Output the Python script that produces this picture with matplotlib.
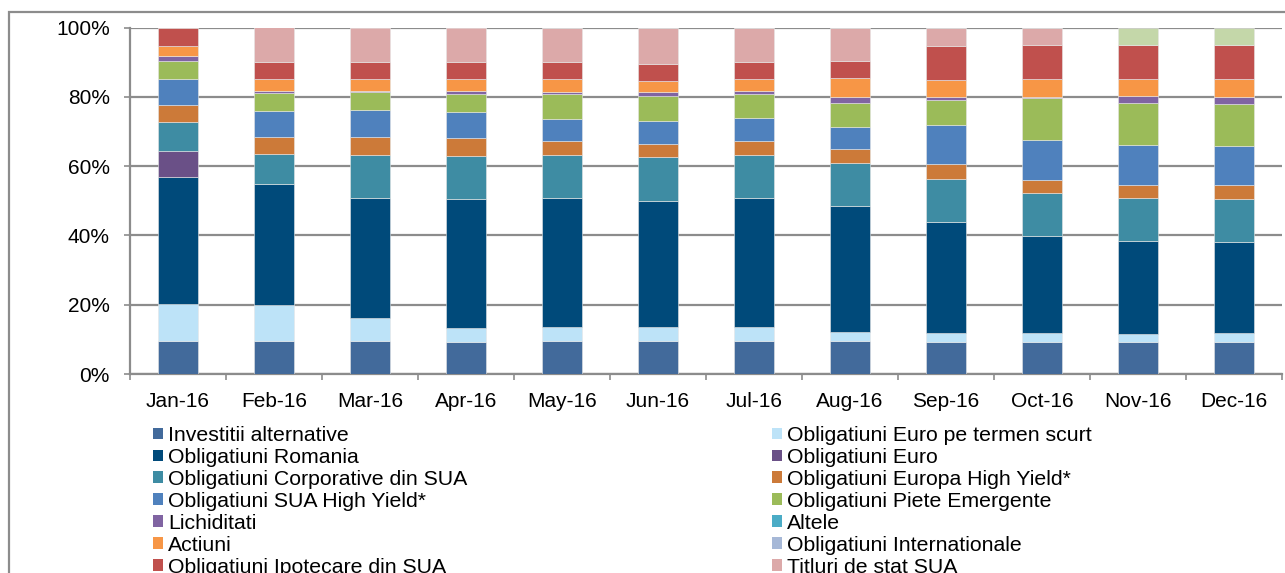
import matplotlib
matplotlib.use("Agg")
import matplotlib.pyplot as plt
from matplotlib.patches import Rectangle, Patch
import numpy as np

plt.rcParams['font.family'] = ['Liberation Sans', 'DejaVu Sans']

months = ["Jan-16", "Feb-16", "Mar-16", "Apr-16", "May-16", "Jun-16",
          "Jul-16", "Aug-16", "Sep-16", "Oct-16", "Nov-16", "Dec-16"]

series_names = [
    "Investitii alternative", "Obligatiuni Euro pe termen scurt",
    "Obligatiuni Romania", "Obligatiuni Euro",
    "Obligatiuni Corporative din SUA", "Obligatiuni Europa High Yield*",
    "Obligatiuni SUA High Yield*", "Obligatiuni Piete Emergente",
    "Lichiditati", "Altele",
    "Actiuni", "Obligatiuni Internationale",
    "Obligatiuni Ipotecare din SUA", "Titluri de stat SUA",
    "Alte active",
]

investitii_alternative = [9.6, 9.5, 9.5, 9.3, 9.5, 9.5, 9.5, 9.5, 9.3, 9.3, 9.3, 9.3]
euro_termen_scurt      = [10.5, 10.5, 6.6, 4.1, 4.0, 4.0, 4.0, 2.5, 2.5, 2.5, 2.3, 2.5]
romania                = [36.7, 34.9, 34.6, 37.1, 37.3, 36.4, 37.2, 36.5, 32.1, 28.0, 26.8, 26.4]
euro                   = [7.5, 0, 0, 0, 0, 0, 0, 0, 0, 0, 0, 0]
corporative_sua        = [8.5, 8.5, 12.6, 12.4, 12.4, 12.6, 12.6, 12.4, 12.5, 12.3, 12.4, 12.3]
europa_hy              = [4.9, 5.1, 5.1, 5.1, 4.1, 3.9, 4.0, 3.9, 4.1, 4.0, 3.8, 4.0]
sua_hy                 = [7.5, 7.5, 7.7, 7.6, 6.4, 6.5, 6.5, 6.4, 11.3, 11.5, 11.4, 11.3]
piete_emergente        = [5.1, 5.1, 5.2, 5.2, 7.2, 7.3, 7.1, 7.1, 7.3, 12.1, 12.1, 12.2]
lichiditati            = [1.5, 0.6, 0.4, 0.9, 0.6, 1.1, 0.7, 1.7, 0.8, 0.3, 2.0, 2.0]
altele                 = [0, 0, 0, 0, 0, 0, 0, 0, 0, 0, 0, 0]
actiuni                = [2.8, 3.4, 3.3, 3.3, 3.5, 3.3, 3.5, 5.4, 4.9, 5.0, 5.1, 5.2]
internationale         = [0, 0, 0, 0, 0, 0, 0, 0, 0, 0, 0, 0]
ipotecare_sua          = [5.4, 4.8, 5.0, 4.9, 4.9, 5.0, 4.9, 4.8, 9.9, 9.9, 9.7, 9.7]
titluri_stat_sua       = [0, 10.2, 10.0, 10.1, 10.0, 10.3, 9.9, 9.6, 5.2, 5.0, 0, 0]
alte_active            = [0, 0, 0, 0, 0, 0, 0, 0, 0, 0, 5.0, 4.9]

data = [investitii_alternative, euro_termen_scurt, romania, euro, corporative_sua,
        europa_hy, sua_hy, piete_emergente, lichiditati, altele, actiuni,
        internationale, ipotecare_sua, titluri_stat_sua, alte_active]

colors = ["#426A9B", "#BDE3F8", "#004A7A", "#6A5087", "#3E8CA3",
          "#CC7A39", "#4F81BD", "#9BBB59", "#8064A2", "#4BACC6",
          "#F79646", "#A6B8D7", "#C0504D", "#DCA9A9", "#C4D7A9"]

W, H = 1285, 573
fig = plt.figure(figsize=(W / 100, H / 100), dpi=100)
ax = fig.add_axes([130 / W, 1 - 374 / H, (1282 - 130) / W, (374 - 27.5) / H])

x = np.arange(len(months))
bottom = np.zeros(len(months))
for vals, col in zip(data, colors):
    v = np.array(vals, dtype=float)
    ax.bar(x, v, width=0.41, bottom=bottom, color=col,
           edgecolor="#e6e6e6", linewidth=0.4, zorder=3)
    bottom += v

grid_c = "#8C8C8C"
ax.set_xlim(-0.5, len(months) - 0.5)
ax.set_ylim(0, 100)
ax.set_yticks([0, 20, 40, 60, 80, 100])
ax.set_yticklabels(["0%", "20%", "40%", "60%", "80%", "100%"], fontsize=15)
ax.yaxis.grid(True, color=grid_c, linewidth=1.6, zorder=0)
ax.tick_params(axis='y', length=4.5, width=1.2, color=grid_c, pad=10)

ax.set_xticks(x)
ax.set_xticklabels(months, fontsize=15)
ax.tick_params(axis='x', which='major', length=0, pad=13)
ax.set_xticks(np.arange(-0.5, len(months), 1.0), minor=True)
ax.tick_params(axis='x', which='minor', length=4.5, width=1.2, color=grid_c)

for s in ["top", "right"]:
    ax.spines[s].set_visible(False)
for s in ["left", "bottom"]:
    ax.spines[s].set_color(grid_c)
    ax.spines[s].set_linewidth(1.6)

# outer chart frame
fig.patches.append(Rectangle((9 / W, -0.05), 1.2, 1 - 12 / H + 0.05,
                             transform=fig.transFigure, fill=False,
                             edgecolor="#8C8C8C", linewidth=1.6))

handles = [Patch(facecolor=c, edgecolor="none", label=n)
           for n, c in zip(series_names, colors)]
left_h = [handles[i] for i in range(0, 14, 2)]
right_h = [handles[i] for i in range(1, 14, 2)]

leg_kw = dict(loc="upper left", frameon=False, fontsize=15.3, borderpad=0,
              borderaxespad=0, handlelength=0.48, handleheight=0.48,
              handletextpad=0.22, labelspacing=0.14)
l1 = fig.legend(handles=left_h, bbox_to_anchor=(153 / W, 1 - 426 / H), **leg_kw)
l2 = fig.legend(handles=right_h, bbox_to_anchor=(772 / W, 1 - 426 / H), **leg_kw)

fig.savefig("out.png", dpi=100)
